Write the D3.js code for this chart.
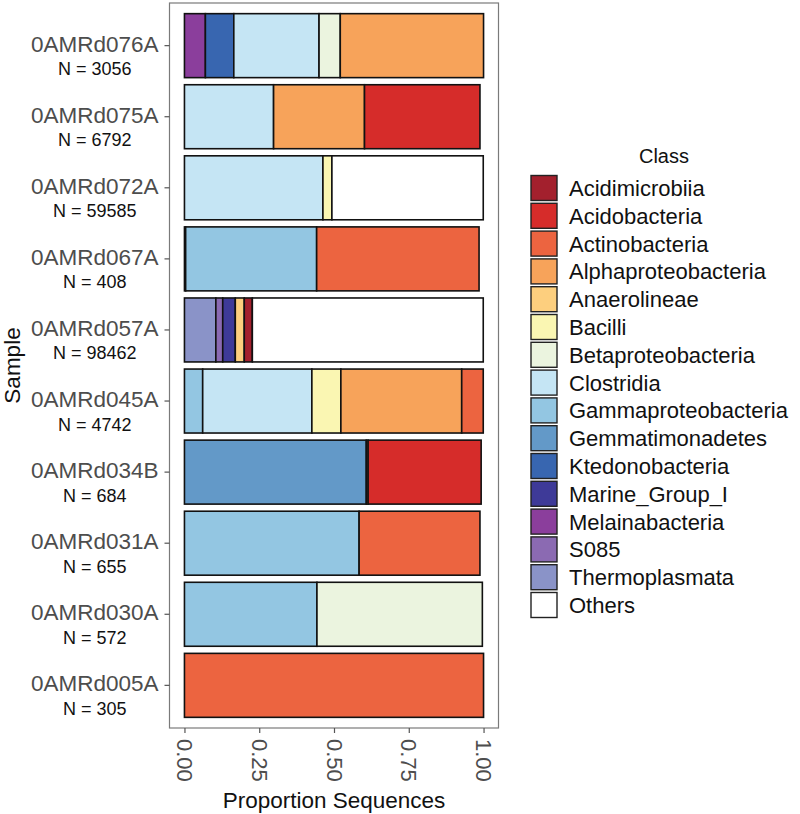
<!DOCTYPE html>
<html><head><meta charset="utf-8">
<script src="https://cdn.jsdelivr.net/npm/d3@7"></script>
<style>
body{margin:0;background:#fff}
svg{display:block}
text{font-family:"Liberation Sans",Arial,Helvetica,sans-serif}
</style>
</head><body>
<svg id="chart" width="800" height="814"></svg>
<script>
// ---- data ----
const samples = ["0AMRd076A","0AMRd075A","0AMRd072A","0AMRd067A","0AMRd057A","0AMRd045A","0AMRd034B","0AMRd031A","0AMRd030A","0AMRd005A"];
const sampleN = [3056, 6792, 59585, 408, 98462, 4742, 684, 655, 572, 305];

const classes = ["Acidimicrobiia","Acidobacteria","Actinobacteria","Alphaproteobacteria","Anaerolineae","Bacilli","Betaproteobacteria","Clostridia","Gammaproteobacteria","Gemmatimonadetes","Ktedonobacteria","Marine_Group_I","Melainabacteria","S085","Thermoplasmata","Others"];
const classColors = ["#A3202D","#D62C2A","#EC6440","#F7A35A","#FDCF7E","#FAF6B2","#EBF4DF","#C5E5F4","#93C6E2","#6399C8","#3866B0","#3E3A98","#8B3E9C","#8B6AB2","#8A93C8","#FFFFFF"];
// left-to-right stacking order inside each bar
const stackOrder = ["Thermoplasmata","S085","Melainabacteria","Marine_Group_I","Ktedonobacteria","Gemmatimonadetes","Gammaproteobacteria","Clostridia","Betaproteobacteria","Bacilli","Anaerolineae","Alphaproteobacteria","Actinobacteria","Acidobacteria","Acidimicrobiia","Others"];

// proportions per class, in the order of `samples`
const acidimicrobiia      = [0,     0,     0,     0,     0.027, 0,     0,     0,     0,     0];
const acidobacteria       = [0,     0.386, 0,     0,     0,     0,     0.378, 0,     0,     0];
const actinobacteria      = [0,     0,     0,     0.543, 0,     0.072, 0.006, 0.404, 0,     1.0];
const alphaproteobacteria = [0.479, 0.304, 0,     0,     0,     0.404, 0,     0,     0,     0];
const anaerolineae        = [0,     0,     0,     0,     0.030, 0,     0,     0,     0,     0];
const bacilli             = [0,     0,     0.030, 0,     0,     0.097, 0,     0,     0,     0];
const betaproteobacteria  = [0.071, 0,     0,     0,     0,     0,     0,     0,     0.553, 0];
const clostridia          = [0.285, 0.298, 0.463, 0,     0,     0.365, 0,     0,     0,     0];
const gammaproteobacteria = [0,     0,     0,     0.438, 0,     0.061, 0,     0.584, 0.443, 0];
const gemmatimonadetes    = [0,     0,     0,     0,     0,     0,     0.608, 0,     0,     0];
const ktedonobacteria     = [0.095, 0,     0,     0,     0,     0,     0,     0,     0,     0];
const marineGroupI        = [0,     0,     0,     0.004, 0.042, 0,     0,     0,     0,     0];
const melainabacteria     = [0.070, 0,     0,     0,     0,     0,     0,     0,     0,     0];
const s085                = [0,     0,     0,     0,     0.023, 0,     0,     0,     0,     0];
const thermoplasmata      = [0,     0,     0,     0,     0.105, 0,     0,     0,     0,     0];
const others              = [0,     0,     0.506, 0,     0.772, 0,     0,     0,     0,     0];

const xTicks = [0, 0.25, 0.5, 0.75, 1];
const xTickLabels = ["0.00","0.25","0.50","0.75","1.00"];

// ---- build ----
const seriesByClass = {
  "Acidimicrobiia": acidimicrobiia, "Acidobacteria": acidobacteria, "Actinobacteria": actinobacteria,
  "Alphaproteobacteria": alphaproteobacteria, "Anaerolineae": anaerolineae, "Bacilli": bacilli,
  "Betaproteobacteria": betaproteobacteria, "Clostridia": clostridia, "Gammaproteobacteria": gammaproteobacteria,
  "Gemmatimonadetes": gemmatimonadetes, "Ktedonobacteria": ktedonobacteria, "Marine_Group_I": marineGroupI,
  "Melainabacteria": melainabacteria, "S085": s085, "Thermoplasmata": thermoplasmata, "Others": others
};
const color = d3.scaleOrdinal().domain(classes).range(classColors);

const svg = d3.select("#chart");
const panel = {left: 169.5, right: 498.5, top: 3, bottom: 728};

const x = d3.scaleLinear().domain([-0.05, 1.05]).range([panel.left, panel.right]);
const y = d3.scaleBand().domain(samples).range([panel.top, panel.bottom]).paddingInner(0.1).paddingOuter(0.15);

const segs = [];
samples.forEach((s, i) => {
  let cum = 0;
  stackOrder.forEach(c => {
    const v = seriesByClass[c][i];
    if (v > 0) { segs.push({sample: s, cls: c, x0: cum, x1: cum + v}); cum += v; }
  });
});

// panel border
svg.append("rect")
  .attr("x", panel.left).attr("y", panel.top)
  .attr("width", panel.right - panel.left).attr("height", panel.bottom - panel.top)
  .attr("fill", "#fff").attr("stroke", "#7a7a7a").attr("stroke-width", 1.2);

svg.append("g").selectAll("rect").data(segs).join("rect")
  .attr("x", d => x(d.x0)).attr("width", d => x(d.x1) - x(d.x0))
  .attr("y", d => y(d.sample)).attr("height", y.bandwidth())
  .attr("fill", d => color(d.cls))
  .attr("stroke", "#111").attr("stroke-width", 1.6);

// x axis
const xAxis = svg.append("g").attr("transform", `translate(0,${panel.bottom})`)
  .call(d3.axisBottom(x).tickValues(xTicks).tickFormat((d, i) => xTickLabels[i]).tickSize(5).tickPadding(0));
xAxis.select(".domain").remove();
xAxis.selectAll(".tick line").attr("stroke", "#555").attr("stroke-width", 1.2);
xAxis.selectAll(".tick text")
  .attr("transform", "rotate(90)")
  .attr("x", 11).attr("y", 0).attr("dy", "0.36em")
  .style("text-anchor", "start")
  .attr("fill", "#4d4d4d").attr("font-size", 22);

// y axis
const yAxis = svg.append("g").attr("transform", `translate(${panel.left},0)`)
  .call(d3.axisLeft(y).tickSize(5).tickFormat(""));
yAxis.select(".domain").remove();
yAxis.selectAll(".tick line").attr("stroke", "#555").attr("stroke-width", 1.2);
yAxis.selectAll(".tick text").remove();

const labelRight = 158.5;
samples.forEach((s, i) => {
  const cy = y(s) + y.bandwidth() / 2;
  const nameT = svg.append("text")
    .attr("x", labelRight).attr("y", cy - 2).attr("dy", "0.36em")
    .attr("text-anchor", "end").attr("font-size", 22.5).attr("fill", "#4d4d4d")
    .text(s);
  const w = nameT.node().getComputedTextLength();
  svg.append("text")
    .attr("x", labelRight - w / 2).attr("y", cy + 23).attr("dy", "0.36em")
    .attr("text-anchor", "middle").attr("font-size", 18).attr("fill", "#111")
    .text("N = " + sampleN[i]);
});

// axis titles
svg.append("text")
  .attr("x", (panel.left + panel.right) / 2).attr("y", 800).attr("dy", "0.36em")
  .attr("text-anchor", "middle").attr("font-size", 22.5).attr("fill", "#111")
  .text("Proportion Sequences");
svg.append("text")
  .attr("transform", `translate(12,${(panel.top + panel.bottom) / 2}) rotate(-90)`)
  .attr("dy", "0.36em")
  .attr("text-anchor", "middle").attr("font-size", 22.5).attr("fill", "#111")
  .text("Sample");

// legend
const lg = svg.append("g");
lg.append("text").attr("x", 664).attr("y", 156).attr("dy", "0.36em")
  .attr("text-anchor", "middle").attr("font-size", 20).attr("fill", "#111").text("Class");
const keyY0 = 188, keyStep = 27.8, keySize = 25;
const items = lg.selectAll("g.item").data(classes).join("g").attr("class", "item")
  .attr("transform", (d, i) => `translate(531,${keyY0 + i * keyStep})`);
items.append("rect")
  .attr("x", 0).attr("y", -keySize / 2).attr("width", 26).attr("height", keySize)
  .attr("fill", d => color(d)).attr("stroke", "#222").attr("stroke-width", 1.4);
items.append("text")
  .attr("x", 38).attr("y", 0).attr("dy", "0.36em")
  .attr("font-size", 22).attr("fill", "#111").text(d => d);
</script>
</body></html>
